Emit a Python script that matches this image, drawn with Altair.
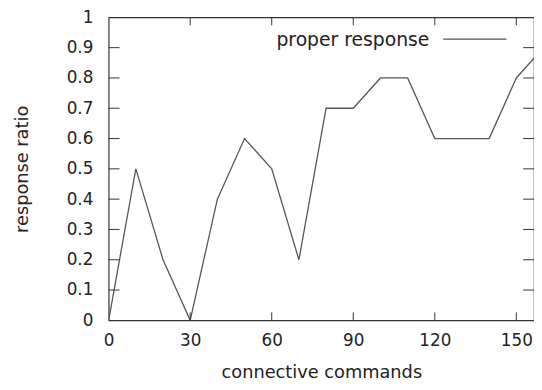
import altair as alt
import pandas as pd

commands = [0, 10, 20, 30, 40, 50, 60, 70, 80, 90, 100, 110, 120, 130, 140, 150, 160]
ratio = [0.0, 0.5, 0.2, 0.0, 0.4, 0.6, 0.5, 0.2, 0.7, 0.7, 0.8, 0.8, 0.6, 0.6, 0.6, 0.8, 0.9]
x_ticks = [0, 30, 60, 90, 120, 150]
y_ticks = [0, 0.1, 0.2, 0.3, 0.4, 0.5, 0.6, 0.7, 0.8, 0.9, 1.0]
series_name = "proper response"

W, H = 431, 307
XMAX = 156.5
FONT = "DejaVu Sans"
TXT = "#222222"

df = pd.DataFrame({"x": commands, "y": ratio})
xs = alt.Scale(domain=[0, XMAX], nice=False, zero=False)
ys = alt.Scale(domain=[0, 1], nice=False)

ax_x = alt.Axis(
    title="connective commands", values=x_ticks, tickSize=0, domain=False, grid=False,
    labelOverlap=False, labelFlush=False,
    labelFontSize=17, labelColor=TXT, labelFont=FONT, labelPadding=13,
    titleFont=FONT, titleFontSize=18, titleFontWeight="normal", titleColor=TXT, titlePadding=15)
ax_y = alt.Axis(
    title="response ratio", values=y_ticks, tickSize=0, domain=False, grid=False,
    labelOverlap=False, labelFlush=False,
    labelFontSize=17, labelColor=TXT, labelFont=FONT, labelPadding=16,
    labelExpr="datum.value == 1 ? '1' : datum.value == 0 ? '0' : format(datum.value, '.1f')",
    titleFont=FONT, titleFontSize=18, titleFontWeight="normal", titleColor=TXT, titlePadding=35)

line = alt.Chart(df).mark_line(color="#555555", strokeWidth=1.3, clip=True).encode(
    x=alt.X("x:Q", scale=xs, axis=ax_x),
    y=alt.Y("y:Q", scale=ys, axis=ax_y),
)

xt = pd.DataFrame({"x": x_ticks[1:]})
yt = pd.DataFrame({"y": y_ticks[1:-1]})
tick_style = dict(color="#333333", strokeWidth=1)

xb = alt.Chart(xt).mark_rule(**tick_style).encode(
    x=alt.X("x:Q", scale=xs, axis=ax_x), y=alt.value(H), y2=alt.value(H - 8))
xtop = alt.Chart(xt).mark_rule(**tick_style).encode(
    x=alt.X("x:Q", scale=xs, axis=ax_x), y=alt.value(0), y2=alt.value(8))
yl = alt.Chart(yt).mark_rule(**tick_style).encode(
    y=alt.Y("y:Q", scale=ys, axis=ax_y), x=alt.value(0), x2=alt.value(11))
yr = alt.Chart(yt).mark_rule(**tick_style).encode(
    y=alt.Y("y:Q", scale=ys, axis=ax_y), x=alt.value(W), x2=alt.value(W - 11))

leg_df = pd.DataFrame({"label": [series_name]})
leg_text = alt.Chart(leg_df).mark_text(
    align="right", baseline="middle", fontSize=19, font=FONT, color=TXT).encode(
    text="label:N", x=alt.value(325), y=alt.value(23))
leg_line = alt.Chart(leg_df).mark_rule(color="#555555", strokeWidth=1.3).encode(
    x=alt.value(339), x2=alt.value(403), y=alt.value(22))

chart = alt.layer(line, xb, xtop, yl, yr, leg_text, leg_line).properties(
    width=W, height=H,
    autosize=alt.AutoSizeParams(type="none"),
    padding={"left": 102, "top": 7, "right": 0, "bottom": 60},
).configure_view(stroke="#333333", strokeWidth=1.2)

chart.save("out.html", embed_options={"renderer": "svg", "actions": False})
